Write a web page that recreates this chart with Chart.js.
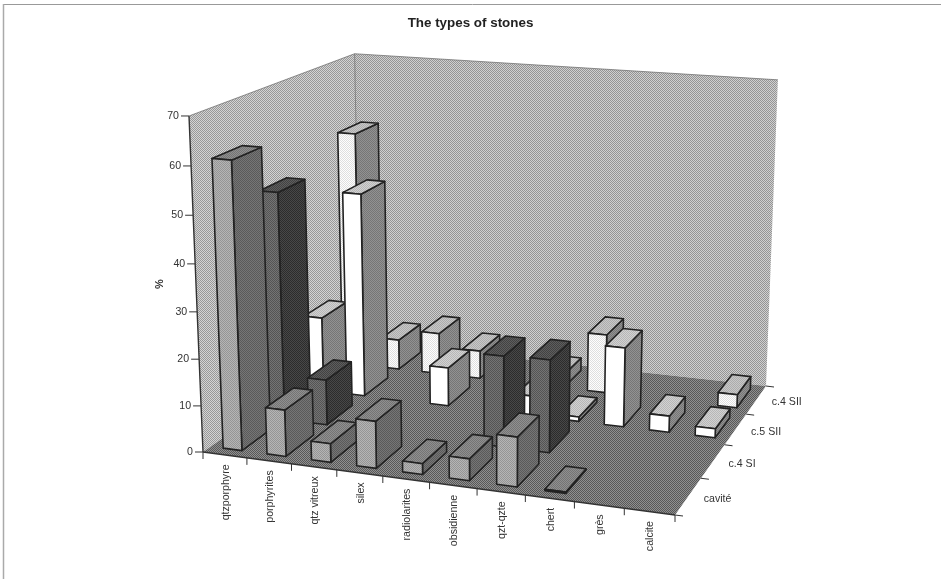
<!DOCTYPE html>
<html>
<head>
<meta charset="utf-8">
<title>The types of stones</title>
<script src="https://cdn.jsdelivr.net/npm/chart.js@4"></script>
<style>
  html, body { margin: 0; padding: 0; background: #fff; }
  #stones { display: block; filter: blur(0.45px); }
</style>
</head>
<body>
<canvas id="stones" width="941" height="579"></canvas>
<script>
var stones = ['qtzporphyre', 'porphyrites', 'qtz vitreux', 'silex', 'radiolarites', 'obsidienne', 'qzt-qzte', 'chert', 'grès', 'calcite'];
var levels = ['cavité', 'c.4 SI', 'c.5 SII', 'c.4 SII'];
var valueTicks = [0, 10, 20, 30, 40, 50, 60, 70];

// % per stone, null = no bar
var cavite = [61, 10, 4, 10, 2.3, 4.6, 10.4, 0.3, null, null];
var c4SI = [50, 10, null, null, null, 19.7, 20, null, null, null];
var c5SII = [17, 46, null, 8.7, null, 4.5, 1, 17.6, 3.6, 2];
var c4SII = [54.7, 7, 9.6, 6.5, null, 3, 13.5, null, null, 3];

// front, side, top greys for each level
var barGreys = [[165, 104, 130], [100, 58, 80], [255, 132, 196], [238, 132, 186]];

// where the floor of the box lands on the page
var floorCorners = [[203, 452], [675, 515], [766, 386], [360, 341]];
var vanish = [493, 7413]; // the uprights all run to this point
var upright = -0.04605;
var barWidth = 0.43;
var barDepth = 0.66;

// unit square -> floor quad
function makeHomography(q) {
  var dx1 = q[1][0] - q[2][0], dx2 = q[3][0] - q[2][0], sx = q[0][0] - q[1][0] + q[2][0] - q[3][0];
  var dy1 = q[1][1] - q[2][1], dy2 = q[3][1] - q[2][1], sy = q[0][1] - q[1][1] + q[2][1] - q[3][1];
  var d = dx1 * dy2 - dx2 * dy1;
  var g = (sx * dy2 - dx2 * sy) / d;
  var h = (dx1 * sy - sx * dy1) / d;
  return {
    a: q[1][0] - q[0][0] + g * q[1][0], b: q[3][0] - q[0][0] + h * q[3][0], c: q[0][0],
    d: q[1][1] - q[0][1] + g * q[1][1], e: q[3][1] - q[0][1] + h * q[3][1], f: q[0][1],
    g: g, h: h
  };
}
var H = makeHomography(floorCorners);

// u along the stones, w into the depth, t up the height, all 0..1
function project(u, w, t) {
  var k = upright * t;
  var W = H.g * u + H.h * w + 1 + k;
  return [(H.a * u + H.b * w + H.c + k * vanish[0]) / W, (H.d * u + H.e * w + H.f + k * vanish[1]) / W];
}

function stipple(ctx, grey, spread) {
  var p = document.createElement('canvas');
  p.width = 2;
  p.height = 2;
  var c = p.getContext('2d');
  var hi = Math.min(255, grey + spread), lo = Math.max(0, grey - spread);
  c.fillStyle = 'rgb(' + hi + ',' + hi + ',' + hi + ')';
  c.fillRect(0, 0, 2, 2);
  c.fillStyle = 'rgb(' + lo + ',' + lo + ',' + lo + ')';
  c.fillRect(0, 0, 1, 1);
  c.fillRect(1, 1, 1, 1);
  return ctx.createPattern(p, 'repeat');
}

function poly(ctx, pts, fill, stroke, lw) {
  ctx.beginPath();
  ctx.moveTo(pts[0][0], pts[0][1]);
  for (var i = 1; i < pts.length; i += 1) {
    ctx.lineTo(pts[i][0], pts[i][1]);
  }
  ctx.closePath();
  if (fill) {
    ctx.fillStyle = fill;
    ctx.fill();
  }
  if (stroke) {
    ctx.strokeStyle = stroke;
    ctx.lineWidth = lw;
    ctx.stroke();
  }
}

function line(ctx, a, b, lw, col) {
  ctx.beginPath();
  ctx.moveTo(a[0], a[1]);
  ctx.lineTo(b[0], b[1]);
  ctx.strokeStyle = col || '#333';
  ctx.lineWidth = lw;
  ctx.stroke();
}

var box3d = {
  id: 'box3d',
  beforeDatasetsDraw: function (chart) {
    var ctx = chart.ctx;
    var xs = chart.scales.x, ys = chart.scales.y, zs = chart.scales.z;
    var cellU = 1 / stones.length, cellW = 1 / levels.length;
    var uOf = function (i) { return (xs.getPixelForValue(i) - xs.left) / xs.width; };
    var wOf = function (j) { return (zs.getPixelForValue(j) - zs.left) / zs.width; };
    var tOf = function (v) { return (ys.bottom - ys.getPixelForValue(v)) / ys.height; };

    ctx.save();
    ctx.lineJoin = 'round';

    // walls and floor
    poly(ctx, [project(0, 0, 0), project(0, 1, 0), project(0, 1, 1), project(0, 0, 1)], stipple(ctx, 182, 30));
    poly(ctx, [project(0, 1, 0), project(1, 1, 0), project(1, 1, 1), project(0, 1, 1)], stipple(ctx, 178, 30));
    poly(ctx, [project(0, 0, 0), project(1, 0, 0), project(1, 1, 0), project(0, 1, 0)], stipple(ctx, 116, 28));
    line(ctx, project(0, 0, 0), project(0, 0, 1), 1.4);
    line(ctx, project(0, 0, 0), project(1, 0, 0), 1.4);
    line(ctx, project(0, 1, 0), project(0, 1, 1), 0.7, '#666');
    line(ctx, project(0, 0, 1), project(0, 1, 1), 0.7, '#666');
    line(ctx, project(0, 1, 1), project(1, 1, 1), 0.7, '#666');

    // back row first, left to right, so nearer bars cover farther ones
    for (var j = levels.length - 1; j >= 0; j -= 1) {
      var values = chart.data.datasets[j].data;
      var greys = barGreys[j];
      var front = stipple(ctx, greys[0], greys[0] > 250 ? 0 : 16);
      var side = stipple(ctx, greys[1], 14);
      var top = stipple(ctx, greys[2], 14);
      for (var i = 0; i < stones.length; i += 1) {
        if (values[i] === null) {
          continue;
        }
        var u0 = uOf(i) - cellU * barWidth / 2, u1 = uOf(i) + cellU * barWidth / 2;
        var w0 = wOf(j) - cellW * barDepth / 2, w1 = wOf(j) + cellW * barDepth / 2;
        var t = tOf(values[i]);
        poly(ctx, [project(u1, w0, 0), project(u1, w1, 0), project(u1, w1, t), project(u1, w0, t)], side, '#222', 1.6);
        poly(ctx, [project(u0, w0, t), project(u1, w0, t), project(u1, w1, t), project(u0, w1, t)], top, '#222', 1.6);
        poly(ctx, [project(u0, w0, 0), project(u1, w0, 0), project(u1, w0, t), project(u0, w0, t)], front, '#222', 1.6);
      }
    }

    // axis ticks and labels
    ctx.fillStyle = '#333';
    ctx.font = '10.6px "Liberation Sans"';
    ctx.textBaseline = 'middle';
    ctx.textAlign = 'right';
    valueTicks.forEach(function (v) {
      var p = project(0, 0, tOf(v));
      line(ctx, [p[0] - 8, p[1]], p, 1);
      ctx.fillStyle = '#333';
      ctx.fillText(String(v), p[0] - 10, p[1]);
    });
    for (var a = 0; a <= stones.length; a += 1) {
      var tick = project(a * cellU, 0, 0);
      line(ctx, tick, [tick[0], tick[1] + 7], 1);
    }
    stones.forEach(function (name, i) {
      var p = project(uOf(i), 0, 0);
      ctx.save();
      ctx.translate(p[0] + 1, p[1] + 9.5);
      ctx.rotate(-Math.PI / 2);
      ctx.textAlign = 'right';
      ctx.fillStyle = '#333';
      ctx.fillText(name, 0, 0);
      ctx.restore();
    });
    for (var b = 0; b <= levels.length; b += 1) {
      var tk = project(1, b * cellW, 0);
      line(ctx, tk, [tk[0] + 8, tk[1] + 1], 1);
    }
    ctx.textAlign = 'left';
    levels.forEach(function (name, j) {
      var p = project(1, wOf(j), 0);
      ctx.fillStyle = '#333';
      ctx.fillText(name, p[0] + 15.5, p[1] + 2.5);
    });
    ctx.save();
    ctx.translate(160, 284);
    ctx.rotate(-Math.PI / 2);
    ctx.textAlign = 'center';
    ctx.font = 'bold 11px "Liberation Sans"';
    ctx.fillStyle = '#333';
    ctx.fillText('%', 0, 0);
    ctx.restore();

    // faint scan frame, top and left only
    line(ctx, [4, 4.5], [941, 4.5], 1, '#999');
    line(ctx, [3.5, 4], [3.5, 579], 1.5, '#aaa');
    ctx.restore();
    return false;
  }
};

new Chart(document.getElementById('stones').getContext('2d'), {
  type: 'bar',
  data: {
    labels: stones,
    datasets: [
      { label: levels[0], data: cavite },
      { label: levels[1], data: c4SI },
      { label: levels[2], data: c5SII },
      { label: levels[3], data: c4SII }
    ]
  },
  options: {
    responsive: false,
    animation: false,
    layout: { padding: 0 },
    scales: {
      x: { type: 'category', display: false },
      z: { type: 'category', axis: 'x', labels: levels, display: false },
      y: { type: 'linear', min: 0, max: 70, display: false }
    },
    plugins: {
      legend: { display: false },
      tooltip: { enabled: false },
      title: {
        display: true,
        text: 'The types of stones',
        color: '#222',
        font: { family: '"Liberation Sans"', size: 13.4, weight: 'bold' },
        padding: { top: 15, bottom: 8 }
      }
    }
  },
  plugins: [box3d]
});
</script>
</body>
</html>
